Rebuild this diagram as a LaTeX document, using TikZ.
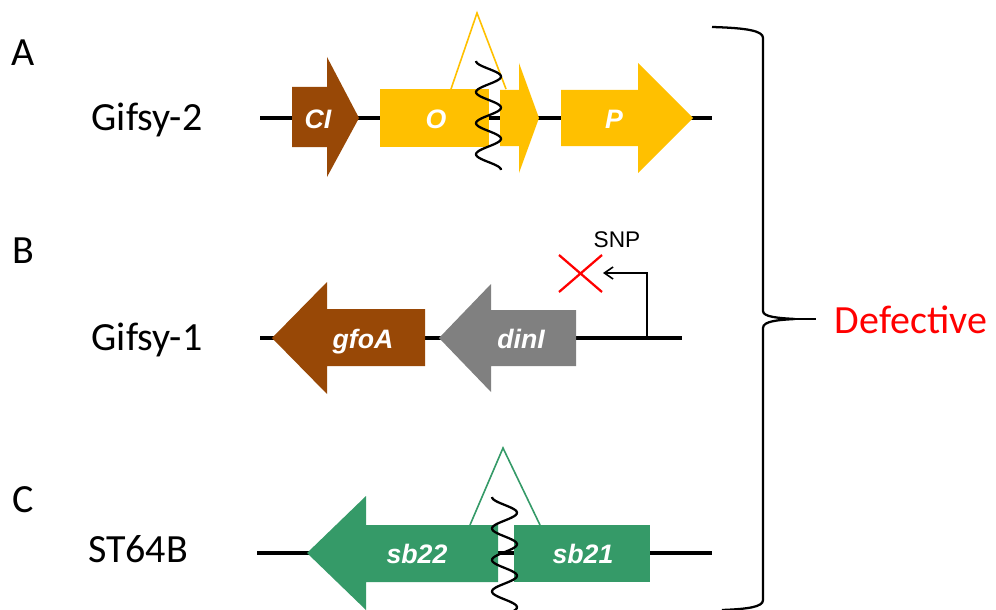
\documentclass[tikz,border=0pt]{standalone}
\usepackage{fontspec}
\setmainfont{Carlito}
\newfontfamily\genefont{Liberation Sans}
\usetikzlibrary{arrows.meta}

\definecolor{phagebrown}{RGB}{152,72,6}
\definecolor{phageyellow}{RGB}{255,192,0}
\definecolor{phagegray}{RGB}{128,128,128}
\definecolor{phagegreen}{RGB}{53,154,104}

\tikzset{
  backbone/.style={line width=2.3pt},
  genetext/.style={anchor=base,text=white,font=\genefont\fontsize{20}{24}\selectfont\bfseries\itshape},
  rowlabel/.style={anchor=base,font=\fontsize{30}{36}\selectfont},
  insertion/.style={line width=1.2pt},
  junction/.style={line width=1.7pt},
}

\begin{document}
\begin{tikzpicture}[x=0.75pt,y=-0.75pt,>={Straight Barb[length=6.5pt,width=9pt]}]
  \useasboundingbox (0,0) rectangle (996,610);

  % A: Gifsy-2
  \coordinate (A0) at (260,118);
  \coordinate (A1) at (712,118);
  \draw[backbone] (A0) -- (A1);
  \fill[phagebrown] (292,87) -- (327,87) -- (327,57) -- (359,118)
      -- (327,177) -- (327,147) -- (292,147) -- cycle;
  \fill[phageyellow] (380,89) rectangle (489,147);
  \fill[phageyellow] (500,90) -- (519,90) -- (519,63) -- (539,118)
      -- (519,173) -- (519,146) -- (500,146) -- cycle;
  \fill[phageyellow] (561,90) -- (638,90) -- (638,63) -- (693,118)
      -- (638,173) -- (638,146) -- (561,146) -- cycle;
  \draw[phageyellow,insertion] (451,89) -- (477,13) -- (506,89);
  \draw[junction] plot[domain=61:170,samples=90,smooth]
      ({488.5-12.5*cos((\x-61)*11.576)},\x);
  \node[genetext] (geneCI) at (318,128) {CI};
  \node[genetext] (geneO) at (436,128) {O};
  \node[genetext] (geneP) at (614,128) {P};
  \node[rowlabel] (labA) at (23,65) {A};
  \node[rowlabel] (gifsy2) at (147,130) {Gifsy-2};

  % B: Gifsy-1
  \coordinate (B0) at (260,338);
  \coordinate (B1) at (682,338);
  \draw[backbone] (B0) -- (B1);
  \fill[phagebrown] (272,338) -- (327,282) -- (327,309) -- (425,309)
      -- (425,366) -- (327,366) -- (327,394) -- cycle;
  \fill[phagegray] (439,338) -- (491,284) -- (491,310) -- (576,310)
      -- (576,366) -- (491,366) -- (491,392) -- cycle;
  \coordinate (promoter) at (647,338);
  \coordinate (promtip) at (603,273);
  \draw[line width=1.2pt,->] (promoter) |- (promtip);
  \draw[red,line width=1.7pt] (559,255) -- (602,292) (559,292) -- (602,255);
  \node[anchor=base,font=\genefont\fontsize{17}{20}\selectfont] (snp) at (617,247) {SNP};
  \node[genetext] (genegfoA) at (363,348) {gfoA};
  \node[genetext] (genedinI) at (521,348) {dinI};
  \node[rowlabel] (labB) at (23,263) {B};
  \node[rowlabel] (gifsy1) at (147,350) {Gifsy-1};

  % C: ST64B
  \coordinate (C0) at (257,553);
  \coordinate (C1) at (712,553);
  \draw[backbone] (C0) -- (C1);
  \fill[phagegreen] (307,553) -- (366,496) -- (366,525) -- (498,525)
      -- (498,582) -- (366,582) -- (366,610) -- cycle;
  \fill[phagegreen] (514,525) rectangle (650,582);
  \draw[phagegreen,insertion] (470,525) -- (503,448) -- (540,525);
  \draw[junction] plot[domain=497:625,samples=100,smooth]
      ({504.5-12.5*cos((\x-497)*11.43)},\x);
  \node[genetext] (genesb22) at (417,563) {sb22};
  \node[genetext] (genesb21) at (583,563) {sb21};
  \node[rowlabel] (labC) at (23,512) {C};
  \node[rowlabel] (st64b) at (138,562) {ST64B};

  % brace
  \coordinate (cusp) at (795,319);
  \coordinate (bracetip) at (816,319);
  \draw[line width=1.7pt] (712,27) .. controls (748,28) and (763,31) .. (763,38)
      -- (763,311) .. controls (763,317) and (778,318) .. (cusp)
      .. controls (778,320) and (763,321) .. (763,328)
      -- (763,600) .. controls (763,607) and (748,609) .. (722,610);
  \draw[line width=1.7pt] (cusp) -- (bracetip);
  \node[rowlabel,text=red] (defective) at (911,333) {Defective};
\end{tikzpicture}
\end{document}
